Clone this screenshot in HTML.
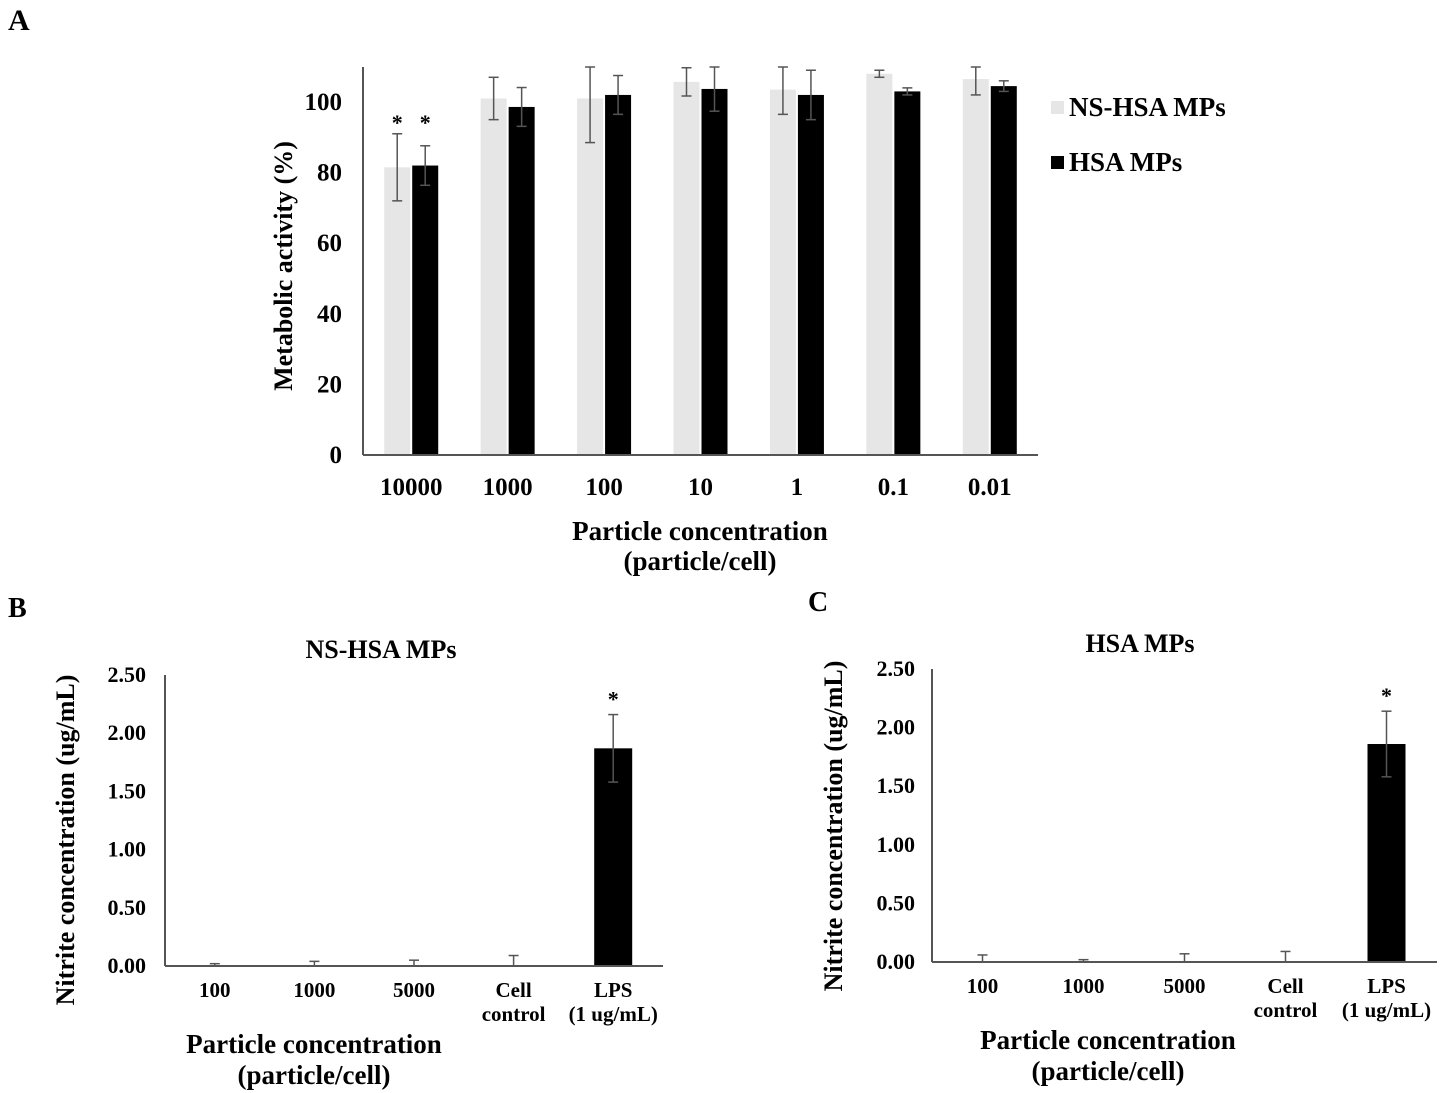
<!DOCTYPE html>
<html><head><meta charset="utf-8">
<style>
html,body{margin:0;padding:0;background:#fff;}
svg{display:block;font-family:"Liberation Serif",serif;font-weight:bold;}
</style></head>
<body>
<svg id="fig" width="1446" height="1093" viewBox="0 0 1446 1093" xmlns="http://www.w3.org/2000/svg">
<text x="8" y="30" font-size="30">A</text>
<text x="8" y="617" font-size="28">B</text>
<text x="808" y="611" font-size="28">C</text>
<g id="gA"></g>
<g id="gB"></g>
<g id="gC"></g>
</svg>
<script>
const aCats = ["10000","1000","100","10","1","0.1","0.01"];
const aNs = [81.5,101,101,105.7,103.5,108,106.5];
const aNsErr = [9.5,6,12.5,4,7,1,4.5];
const aHsa = [82,98.6,102,103.7,102,103,104.5];
const aHsaErr = [5.6,5.5,5.5,6.3,7,1,1.5];
const aSig = [true,false,false,false,false,false,false];
const aTicks = [0,20,40,60,80,100];

const bCats = [["100"],["1000"],["5000"],["Cell","control"],["LPS","(1 ug/mL)"]];
const bVals = [0,0,0,0,1.87];
const bErr = [0.02,0.04,0.05,0.09,0.29];
const bSig = [false,false,false,false,true];
const cVals = [0,0,0,0,1.86];
const cErr = [0.06,0.02,0.07,0.09,0.28];
const cSig = [false,false,false,false,true];
const bcTicks = [0,0.5,1,1.5,2,2.5];

const NS="http://www.w3.org/2000/svg";
function mk(parent,tag,attrs,text){const e=document.createElementNS(NS,tag);for(const k in attrs)e.setAttribute(k,attrs[k]);if(text!==undefined)e.textContent=text;parent.appendChild(e);return e;}
function errBar(g,x,y0,y1,capW,name){
  const e=mk(g,'g',{stroke:'#555','stroke-width':1.5});
  
  
  mk(e,'line',{x1:x,x2:x,y1:y0,y2:y1});
  mk(e,'line',{x1:x-capW,x2:x+capW,y1:y0,y2:y0});
  mk(e,'line',{x1:x-capW,x2:x+capW,y1:y1,y2:y1});
}

// Chart A
(function(){
  const g=document.getElementById('gA');
  const x0=363,x1=1038,yb=455,yTop=67,ppu=3.53;
  const y=v=>yb-v*ppu;
  const gw=(x1-x0)/aCats.length;
  const clampY=v=>Math.max(y(v),yTop);
  aTicks.forEach(t=>{const tl=mk(g,'text',{x:342,y:y(t)+8,'font-size':25,'text-anchor':'end'},t);
    });
  aCats.forEach((c,i)=>{
    const cx=x0+gw*(i+0.5);
    const r1=mk(g,'rect',{x:cx-27,y:y(aNs[i]),width:26,height:aNs[i]*ppu,fill:'#e6e6e6'});
    
    const r2=mk(g,'rect',{x:cx+1,y:y(aHsa[i]),width:26,height:aHsa[i]*ppu,fill:'#000'});
    
    errBar(g,cx-14,clampY(aNs[i]+aNsErr[i]),y(aNs[i]-aNsErr[i]),5,'error-ns-hsa-'+c);
    errBar(g,cx+14,clampY(aHsa[i]+aHsaErr[i]),y(aHsa[i]-aHsaErr[i]),5,'error-hsa-'+c);
    if(aSig[i]){
      const s1=mk(g,'text',{x:cx-14,y:y(aNs[i]+aNsErr[i])-4,'font-size':22,'text-anchor':'middle'},'*');
      
      const s2=mk(g,'text',{x:cx+14,y:y(aNs[i]+aNsErr[i])-4,'font-size':22,'text-anchor':'middle'},'*');
      
    }
    const xl=mk(g,'text',{x:cx,y:495,'font-size':25,'text-anchor':'middle'},c);
    
  });
  mk(g,'line',{x1:x0,x2:x0,y1:yTop,y2:yb,stroke:'#555','stroke-width':2});
  mk(g,'line',{x1:x0,x2:x1,y1:yb,y2:yb,stroke:'#555','stroke-width':2});
  const yt=mk(g,'text',{x:0,y:0,'font-size':26,'text-anchor':'middle',transform:'translate(292,266) rotate(-90)'},'Metabolic activity (%)');
  
  const xt=mk(g,'text',{x:700,y:540,'font-size':27,'text-anchor':'middle'},'Particle concentration');
  
  mk(g,'text',{x:700,y:570,'font-size':27,'text-anchor':'middle'},'(particle/cell)');
  const l1=mk(g,'g',{});
  mk(l1,'rect',{x:1051,y:101,width:13,height:13,fill:'#e6e6e6'});
  mk(l1,'text',{x:1069,y:116,'font-size':27},'NS-HSA MPs');
  const l2=mk(g,'g',{});
  mk(l2,'rect',{x:1051,y:156,width:13,height:13,fill:'#000'});
  mk(l2,'text',{x:1069,y:171,'font-size':27},'HSA MPs');
})();

function drawBC(gid,vals,errs,sig,x0,x1,yb,ppu,title,titleX,ytX,ytY,tickX,capX){
  const g=document.getElementById(gid);
  const y=v=>yb-v*ppu;
  const gw=(x1-x0)/bCats.length;
  bcTicks.forEach(t=>{const tl=mk(g,'text',{x:tickX,y:y(t)+7,'font-size':22,'text-anchor':'end'},t.toFixed(2));
    });
  bCats.forEach((c,i)=>{
    const cx=x0+gw*(i+0.5);
    if(vals[i]>0){const r=mk(g,'rect',{x:cx-19,y:y(vals[i]),width:38,height:vals[i]*ppu,fill:'#000'});
      }
    const top=y(vals[i]+errs[i]);
    const e=mk(g,'g',{stroke:'#555','stroke-width':1.5});
    
    
    mk(e,'line',{x1:cx,x2:cx,y1:top,y2:vals[i]>0?y(vals[i]-errs[i]):yb});
    mk(e,'line',{x1:cx-5,x2:cx+5,y1:top,y2:top});
    if(vals[i]>0) mk(e,'line',{x1:cx-5,x2:cx+5,y1:y(vals[i]-errs[i]),y2:y(vals[i]-errs[i])});
    if(sig[i]){const s=mk(g,'text',{x:cx,y:top-8,'font-size':22,'text-anchor':'middle'},'*');
      }
    c.forEach((ln,j)=>{const xl=mk(g,'text',{x:cx,y:yb+31+j*24,'font-size':21,'text-anchor':'middle'},ln);
      });
  });
  mk(g,'line',{x1:x0,x2:x0,y1:y(2.5),y2:yb,stroke:'#555','stroke-width':2});
  mk(g,'line',{x1:x0,x2:x1,y1:yb,y2:yb,stroke:'#555','stroke-width':2});
  const tt=mk(g,'text',{x:titleX,y:y(2.5)-17,'font-size':26,'text-anchor':'middle'},title);
  
  const yt=mk(g,'text',{x:0,y:0,'font-size':26,'text-anchor':'middle',transform:'translate('+ytX+','+ytY+') rotate(-90)'},'Nitrite concentration (ug/mL)');
  
  const xt=mk(g,'text',{x:capX,y:yb+87,'font-size':27,'text-anchor':'middle'},'Particle concentration');
  
  mk(g,'text',{x:capX,y:yb+118,'font-size':27,'text-anchor':'middle'},'(particle/cell)');
}
drawBC('gB',bVals,bErr,bSig,165,663,966,116.4,'NS-HSA MPs',381,74,840,146,314);
drawBC('gC',cVals,cErr,cSig,932,1437,962,117.2,'HSA MPs',1140,842,826,915,1108);
</script>
</body></html>
